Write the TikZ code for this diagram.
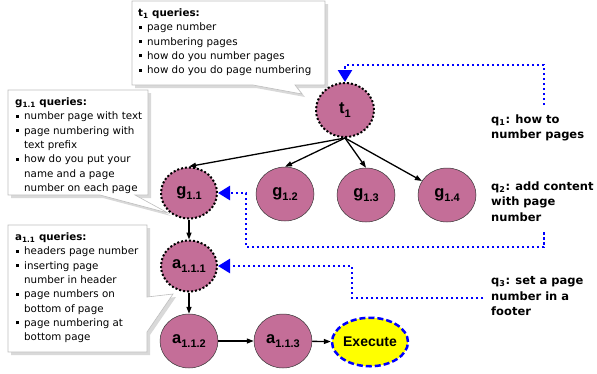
\documentclass[tikz,border=0pt]{standalone}
\usepackage{fontspec}
\setmainfont{DejaVu Sans}
\newfontfamily\nodefont{Liberation Sans}
\usetikzlibrary{arrows.meta,shapes.geometric,shadows,calc}

\definecolor{mauve}{RGB}{196,110,152}
\definecolor{qblue}{RGB}{0,0,255}
\definecolor{balloonline}{RGB}{190,190,190}
\definecolor{execyellow}{RGB}{255,255,0}

% bullet lines for the query balloons
\newcommand\qitem[1]{\mbox{\hspace{1pt}\rule[2pt]{3pt}{3pt}\hspace{5pt}#1}}
\newcommand\qcont[1]{\mbox{\hspace{9pt}#1}}
% node label with a lowered index
\newcommand\lbl[2]{#1\raisebox{-3.5pt}{\fontsize{11}{11}\selectfont #2}}

\tikzset{
  topic/.style={ellipse, fill=mauve, draw=black!80, line width=0.5pt,
    minimum width=58pt, minimum height=54pt, inner sep=0pt,
    font=\nodefont\bfseries\fontsize{16.5}{16.5}\selectfont},
  visited/.style={topic, draw=black, line width=2pt, dash pattern=on 2pt off 2pt,
    minimum width=56pt, minimum height=51pt},
  execbox/.style={topic, fill=execyellow, draw=qblue, line width=2.5pt,
    dash pattern=on 6pt off 3pt, minimum width=58.5pt, minimum height=48.5pt,
    font=\nodefont\bfseries\fontsize{14}{14}\selectfont},
  link/.style={line width=1.3pt, -{Triangle[length=7pt,width=5pt]}},
  qpath/.style={qblue, line width=2.5pt, dash pattern=on 2.5pt off 2.5pt,
    -{Triangle[length=12pt,width=14pt]}},
  balloon/.style={draw=balloonline, fill=white, line width=0.6pt,
    drop shadow={shadow xshift=3pt, shadow yshift=-3pt, opacity=0.3}},
  querytext/.style={align=left, anchor=north west, inner sep=0pt,
    font=\fontsize{10.3}{14.3}\selectfont},
  qlabel/.style={align=left, anchor=north west, inner sep=0pt,
    font=\bfseries\fontsize{11.5}{15.3}\selectfont},
}

\begin{document}
\begin{tikzpicture}[x=1pt,y=-1pt]
\useasboundingbox (0,0) rectangle (597,373);

% query balloons
\coordinate (t1tip) at (302,94);
\coordinate (g11tip) at (168,213);
\coordinate (a11tip) at (173,294);
\path[balloon] (132,1) -- (325,1) -- (325,85) -- (295,85) -- (t1tip) -- (253,85) -- (132,85) -- cycle;
\path[balloon] (8,90) -- (148,90) -- (148,195) -- (135,195) -- (g11tip) -- (100,195) -- (8,195) -- cycle;
\path[balloon] (8,225) -- (147,225) -- (147,297) -- (a11tip) -- (147,332) -- (147,352) -- (8,352) -- cycle;

\node[querytext] (t1q) at (138,8.5) {\textbf{t\textsubscript{1} queries:}\\
  \qitem{page number}\\
  \qitem{numbering pages}\\
  \qitem{how do you number pages}\\
  \qitem{how do you do page numbering}};
\node[querytext] (g11q) at (15,97.5) {\textbf{g\textsubscript{1.1} queries:}\\
  \qitem{number page with text}\\
  \qitem{page numbering with}\\
  \qcont{text prefix}\\
  \qitem{how do you put your}\\
  \qcont{name and a page}\\
  \qcont{number on each page}};
\node[querytext] (a11q) at (15,232.5) {\textbf{a\textsubscript{1.1} queries:}\\
  \qitem{headers page number}\\
  \qitem{inserting page}\\
  \qcont{number in header}\\
  \qitem{page numbers on}\\
  \qcont{bottom of page}\\
  \qitem{page numbering at}\\
  \qcont{bottom page}};

% topic nodes
\node[visited, minimum width=58pt, minimum height=54pt] (t1) at (345,110) {\lbl{t}{1}};
\node[visited] (g11) at (189,193) {\lbl{g}{1.1}};
\node[topic] (g12) at (285,194) {\lbl{g}{1.2}};
\node[topic] (g13) at (366,195) {\lbl{g}{1.3}};
\node[topic] (g14) at (447,195) {\lbl{g}{1.4}};
\node[visited] (a111) at (189,266) {\lbl{a}{1.1.1}};
\node[topic] (a112) at (189,341) {\lbl{a}{1.1.2}};
\node[topic] (a113) at (283,341) {\lbl{a}{1.1.3}};
\node[execbox] (exec) at (370,342) {Execute};

\draw[link] (t1.south) -- (g11.north);
\draw[link] (t1.south) -- (g12.north);
\draw[link] (t1.south) -- (g13.north);
\draw[link] (t1.south) -- (g14);
\draw[link] (g11) -- (a111);
\draw[link] (a111) -- (a112);
\draw[link] (a112) -- (a113);
\draw[link] (a113) -- (exec);

% queries on the right
\node[qlabel] (q1) at (491,114.5) {q\textsubscript{1}: how to\\number pages};
\node[qlabel] (q2) at (491,181.5) {q\textsubscript{2}: add content\\with page\\number};
\node[qlabel] (q3) at (491,276.5) {q\textsubscript{3}: set a page\\number in a\\footer};

\coordinate (q1s) at (544,105);
\coordinate (q2s) at (544,232);
\coordinate (q3s) at (483,298);
\draw[qpath] (q1s) |- ($(t1.north)+(0,-17)$) -- (t1.north);
\draw[qpath] (q2s) -- (544,247) -- (246,247) |- (g11.east);
\draw[qpath] (q3s) -- (352,298) |- (a111.east);
\end{tikzpicture}
\end{document}
